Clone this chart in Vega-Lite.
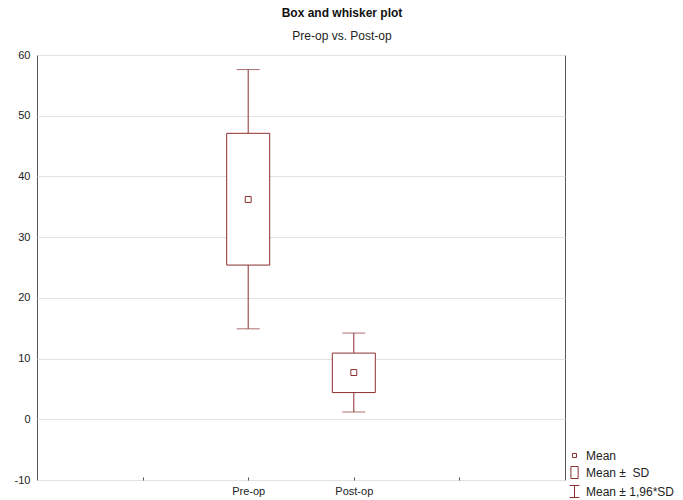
{
  "$schema": "https://vega.github.io/schema/vega-lite/v6.json",
  "width": 528,
  "height": 425,
  "autosize": {"type": "none"},
  "padding": {"left": 37, "top": 55, "right": 118, "bottom": 20},
  "background": "white",
  "title": {
    "text": "Box and whisker plot",
    "subtitle": "Pre-op vs. Post-op",
    "anchor": "middle",
    "frame": "group",
    "dx": 41,
    "offset": 6,
    "font": "Liberation Sans",
    "fontSize": 12,
    "fontWeight": "bold",
    "color": "#111",
    "subtitleFont": "Liberation Sans",
    "subtitleFontSize": 12,
    "subtitleColor": "#222",
    "subtitlePadding": 11
  },
  "config": {
    "view": {"stroke": "#555", "strokeWidth": 1},
    "axis": {
      "labelFont": "Liberation Sans",
      "labelFontSize": 11,
      "labelColor": "#222",
      "domainColor": "#555",
      "tickColor": "#555",
      "gridColor": "#e2e2e2",
      "title": null
    }
  },
  "data": {
    "values": [
      {"group": "Pre-op", "mean": 36.2, "sdlo": 25.4, "sdhi": 47.1, "cilo": 14.9, "cihi": 57.6, "series": "Mean"},
      {"group": "Post-op", "mean": 7.7, "sdlo": 4.4, "sdhi": 10.9, "cilo": 1.2, "cihi": 14.2, "series": "Mean"}
    ]
  },
  "encoding": {
    "x": {
      "field": "group",
      "type": "nominal",
      "scale": {"type": "point", "domain": [" ", "Pre-op", "Post-op", "  "], "padding": 1},
      "axis": {"labelAngle": 0, "grid": false, "tickSize": -3, "labelPadding": 8, "domain": false}
    }
  },
  "layer": [
    {
      "mark": {"type": "rule", "color": "#8c2f2f", "strokeWidth": 1},
      "encoding": {
        "y": {
          "field": "cilo",
          "type": "quantitative",
          "scale": {"domain": [-10, 60], "nice": false, "zero": false},
          "axis": {"values": [-10, 0, 10, 20, 30, 40, 50, 60], "grid": true, "ticks": false, "labelPadding": 7, "domain": false, "labelExpr": "replace(datum.label, '\u2212', '-')"}
        },
        "y2": {"field": "cihi"}
      }
    },
    {
      "mark": {"type": "bar", "width": 43, "fill": "white", "stroke": "#8c2f2f", "strokeWidth": 1},
      "encoding": {
        "y": {"field": "sdlo", "type": "quantitative"},
        "y2": {"field": "sdhi"}
      }
    },
    {
      "mark": {"type": "tick", "color": "#8c2f2f", "size": 23, "thickness": 1},
      "encoding": {"y": {"field": "cilo", "type": "quantitative"}}
    },
    {
      "mark": {"type": "tick", "color": "#8c2f2f", "size": 23, "thickness": 1},
      "encoding": {"y": {"field": "cihi", "type": "quantitative"}}
    },
    {
      "mark": {"type": "point", "filled": false, "color": "#8c2f2f", "strokeWidth": 1, "size": 560, "opacity": 1},
      "encoding": {
        "y": {"field": "mean", "type": "quantitative"},
        "shape": {
          "field": "series",
          "type": "nominal",
          "scale": {
            "domain": ["Mean", "Mean ±\u00a0 SD", "Mean ± 1,96*SD"],
            "range": [
              "M-0.25,-0.25H0.25V0.25H-0.25Z",
              "M-0.45,-0.75H0.45V0.75H-0.45Z",
              "M-0.6,-0.75H0.6M0,-0.75V0.75M-0.6,0.75H0.6"
            ]
          },
          "legend": {
            "title": null,
            "orient": "none",
            "legendX": 529,
            "legendY": 392,
            "symbolSize": 256,
            "symbolStrokeColor": "#8c2f2f",
            "symbolFillColor": "transparent",
            "symbolStrokeWidth": 1,
            "symbolOpacity": 1,
            "labelFont": "Liberation Sans",
            "labelFontSize": 12,
            "labelColor": "#222",
            "labelOffset": 3,
            "rowPadding": 2,
            "padding": 0
          }
        }
      }
    }
  ]
}
